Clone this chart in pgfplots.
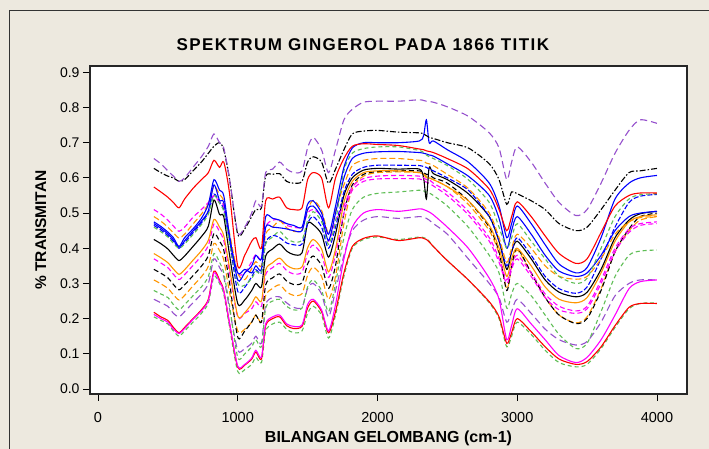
\documentclass[border=0pt]{standalone}
\usepackage{fontspec}
\setmainfont{Liberation Sans}
\newfontfamily\titlefont[LetterSpace=8.5]{Liberation Sans}
\usepackage{pgfplots}
\usepackage{pgfplotstable}
\pgfplotsset{compat=1.18}
\definecolor{bgbeige}{RGB}{237,233,223}
\definecolor{cpurple}{RGB}{150,80,205}
\definecolor{cgreen}{RGB}{95,190,85}
\definecolor{corange}{RGB}{255,150,0}
\definecolor{cmagenta}{RGB}{255,0,255}
\definecolor{cred}{RGB}{255,0,0}
\definecolor{cblue}{RGB}{0,0,255}

\pgfplotstableread{
x A B C D E F G H I J K L M N O P Q R S
400 .655 .627 .574 .475 .46 .47 .49 .465 .425 .385 .34 .51 .31 .28 .212 .255 .218 .205 .37
450 .64 .615 .56 .462 .447 .457 .477 .452 .413 .373 .329 .497 .299 .27 .2 .245 .205 .195 .358
500 .62 .605 .545 .446 .432 .441 .46 .436 .398 .359 .316 .48 .286 .26 .19 .235 .195 .185 .345
540 .605 .60 .53 .43 .414 .424 .444 .419 .38 .341 .297 .463 .268 .24 .17 .215 .175 .165 .326
580 .59 .59 .515 .405 .40 .40 .429 .404 .365 .326 .282 .448 .253 .225 .158 .205 .16 .15 .311
620 .60 .595 .54 .43 .412 .421 .44 .416 .378 .339 .296 .46 .266 .24 .172 .22 .175 .165 .325
680 .63 .62 .57 .455 .439 .449 .469 .444 .405 .366 .322 .488 .293 .265 .198 .245 .20 .19 .351
740 .66 .645 .595 .485 .467 .477 .497 .472 .433 .393 .349 .51 .319 .29 .222 .27 .225 .215 .378
790 .69 .67 .615 .525 .497 .507 .527 .502 .463 .423 .379 .53 .349 .32 .252 .30 .255 .245 .408
830 .725 .69 .65 .595 .55 .58 .576 .554 .537 .482 .442 .55 .414 .385 .33 .37 .335 .32 .469
870 .70 .70 .63 .565 .527 .536 .553 .531 .496 .46 .42 .53 .393 .36 .305 .345 .31 .30 .447
900 .685 .68 .645 .55 .505 .53 .533 .51 .49 .436 .395 .52 .367 .33 .278 .32 .28 .27 .422
940 .60 .60 .56 .44 .418 .427 .446 .423 .385 .348 .306 .43 .278 .24 .19 .23 .19 .18 .334
1000 .445 .44 .35 .31 .30 .33 .33 .278 .243 .208 .148 .33 .165 .09 .065 .11 .062 .05 .205
1050 .46 .455 .38 .33 .295 .34 .311 .289 .253 .217 .165 .33 .17 .10 .07 .115 .068 .055 .215
1100 .50 .49 .42 .35 .314 .33 .342 .319 .28 .242 .19 .362 .19 .12 .088 .13 .085 .07 .228
1130 .535 .51 .43 .38 .334 .35 .362 .339 .30 .262 .21 .382 .21 .14 .11 .15 .105 .09 .248
1170 .52 .515 .40 .37 .33 .34 .35 .33 .29 .25 .19 .37 .19 .12 .09 .13 .085 .075 .235
1200 .615 .605 .535 .49 .412 .46 .44 .416 .378 .339 .296 .46 .266 .23 .185 .24 .18 .165 .325
1250 .625 .61 .54 .485 .432 .46 .46 .436 .398 .359 .316 .48 .286 .25 .205 .26 .20 .185 .345
1300 .645 .612 .545 .48 .448 .458 .478 .43 .412 .372 .327 .48 .296 .255 .21 .262 .205 .19 .357
1350 .625 .59 .515 .47 .428 .455 .458 .415 .392 .352 .307 .465 .276 .235 .185 .245 .18 .17 .337
1400 .615 .585 .51 .465 .418 .45 .448 .41 .382 .342 .297 .46 .266 .225 .178 .232 .172 .16 .327
1460 .62 .59 .515 .46 .423 .45 .453 .412 .387 .347 .302 .46 .271 .23 .182 .232 .178 .165 .332
1500 .685 .645 .595 .525 .479 .51 .509 .47 .47 .401 .355 .50 .323 .29 .24 .285 .23 .215 .386
1540 .715 .66 .615 .535 .504 .52 .536 .49 .467 .425 .378 .51 .346 .31 .255 .30 .25 .235 .409
1600 .68 .645 .60 .50 .476 .487 .508 .46 .44 .398 .351 .49 .32 .28 .225 .27 .22 .21 .382
1650 .615 .585 .515 .44 .411 .422 .443 .40 .375 .333 .286 .42 .255 .22 .165 .205 .16 .145 .317
1700 .68 .625 .60 .52 .476 .50 .508 .46 .44 .398 .351 .48 .32 .30 .24 .28 .22 .21 .382
1760 .765 .68 .655 .63 .62 .60 .58 .56 .55 .53 .50 .52 .47 .43 .37 .38 .33 .32 .50
1820 .795 .725 .69 .685 .67 .655 .635 .61 .60 .59 .58 .575 .57 .51 .46 .45 .405 .40 .565
1900 .815 .733 .697 .70 .683 .67 .65 .63 .622 .615 .61 .598 .605 .545 .50 .48 .428 .425 .59
2000 .818 .735 .695 .70 .688 .674 .655 .636 .627 .62 .618 .605 .615 .556 .51 .49 .435 .432 .597
2150 .818 .73 .692 .70 .688 .675 .655 .636 .625 .62 .62 .607 .617 .56 .505 .485 .422 .425 .598
2300 .822 .728 .682 .705 .678 .672 .65 .635 .625 .615 .62 .605 .615 .565 .512 .49 .43 .432 .597
2330 .82 .725 .68 .72 .672 .67 .648 .632 .60 .61 .615 .60 .61 .563 .51 .488 .428 .43 .592
2350 .818 .72 .677 .765 .665 .668 .642 .63 .54 .60 .61 .595 .605 .56 .507 .485 .425 .428 .588
2370 .817 .715 .675 .70 .66 .665 .64 .625 .63 .60 .61 .595 .60 .557 .503 .48 .418 .42 .585
2400 .815 .712 .672 .705 .655 .662 .635 .62 .612 .595 .60 .585 .595 .55 .495 .47 .405 .405 .577
2500 .802 .70 .655 .68 .635 .64 .61 .60 .595 .575 .585 .56 .575 .52 .46 .44 .365 .365 .55
2650 .775 .685 .625 .645 .595 .605 .57 .565 .555 .535 .535 .505 .525 .46 .40 .37 .31 .31 .495
2800 .728 .64 .568 .585 .53 .55 .50 .49 .49 .465 .46 .43 .45 .38 .315 .30 .248 .245 .42
2870 .685 .595 .51 .52 .46 .485 .43 .42 .42 .40 .39 .37 .385 .33 .255 .26 .205 .20 .36
2925 .595 .525 .45 .43 .40 .40 .36 .35 .34 .32 .28 .31 .285 .23 .14 .19 .13 .12 .30
2960 .645 .56 .49 .47 .43 .45 .40 .39 .39 .37 .35 .35 .345 .27 .18 .22 .16 .15 .34
3000 .688 .555 .532 .52 .47 .49 .44 .43 .42 .40 .40 .38 .395 .30 .228 .255 .20 .19 .37
3100 .645 .535 .49 .47 .42 .44 .40 .38 .37 .35 .33 .33 .33 .265 .185 .215 .163 .155 .32
3200 .585 .51 .435 .41 .37 .38 .35 .32 .31 .29 .26 .27 .26 .21 .14 .17 .12 .11 .26
3300 .53 .47 .385 .355 .32 .335 .32 .285 .275 .255 .21 .235 .21 .155 .095 .14 .085 .075 .225
3420 .493 .45 .357 .33 .30 .32 .312 .272 .262 .245 .186 .222 .188 .115 .075 .125 .07 .063 .215
3500 .51 .46 .37 .345 .315 .33 .32 .29 .275 .26 .20 .235 .205 .13 .09 .135 .078 .07 .228
3600 .585 .51 .445 .43 .40 .38 .37 .37 .34 .33 .28 .31 .285 .22 .14 .19 .12 .115 .30
3700 .67 .565 .52 .54 .49 .45 .44 .46 .43 .42 .39 .40 .39 .32 .21 .265 .18 .175 .39
3800 .735 .615 .55 .585 .54 .49 .475 .53 .48 .475 .455 .455 .45 .38 .285 .30 .232 .228 .445
3880 .765 .62 .557 .60 .552 .50 .487 .548 .498 .49 .49 .47 .48 .392 .305 .31 .243 .243 .465
4000 .755 .627 .557 .607 .555 .505 .49 .553 .505 .495 .50 .475 .49 .395 .31 .31 .243 .245 .47
}\spectra

\begin{document}
\begin{tikzpicture}[x=1pt,y=1pt]
\fill[bgbeige] (0,0) rectangle (709,449);
\draw[black!80, line width=1pt] (9.5,0) -- (9.5,438.5) -- (709,438.5);
\begin{axis}[
  at={(90pt,55pt)}, anchor=south west,
  scale only axis, width=597pt, height=328pt,
  xmin=-57, xmax=4215, ymin=-0.0142, ymax=0.918,
  xtick={0,1000,2000,3000,4000},
  ytick={0,0.1,0.2,0.3,0.4,0.5,0.6,0.7,0.8,0.9},
  xtick pos=bottom, ytick pos=left,
  tick align=outside, major tick length=7pt,
  tick style={black, line width=0.8pt},
  axis line style={black!85, line width=1.3pt},
  axis background/.style={fill=white},
  /pgf/number format/assume math mode=true,
  /pgf/number format/1000 sep={},
  yticklabel style={/pgf/number format/fixed, /pgf/number format/fixed zerofill, /pgf/number format/precision=1, font=\fontsize{14}{16}\selectfont},
  xticklabel style={font=\fontsize{14.5}{16}\selectfont, yshift=-8pt},
  scaled y ticks=false,
  title={\titlefont\bfseries SPEKTRUM GINGEROL PADA 1866 TITIK},
  title style={at={(axis description cs:0.457,1)}, anchor=base, yshift=9.7pt, font=\fontsize{17}{19}\selectfont},
  xlabel={\textbf{BILANGAN GELOMBANG (cm-1)}},
  xlabel style={at={(axis description cs:0.5,0)}, anchor=base, yshift=-49pt, font=\fontsize{16}{18}\selectfont},
  ylabel={\textbf{\% TRANSMITAN}},
  ylabel style={at={(axis description cs:-0.0737,0.5)}, anchor=base, font=\fontsize{15.5}{18}\selectfont},
  every axis plot/.append style={line width=1.1pt, mark=none, smooth, tension=0.45},
]
\addplot[cgreen, dash pattern=on 4pt off 3pt] table[x=x,y=R]{\spectra};
\addplot[cred] table[x=x,y=Q]{\spectra};
\addplot[cpurple, dash pattern=on 7pt off 4pt] table[x=x,y=P]{\spectra};
\addplot[cmagenta] table[x=x,y=O]{\spectra};
\addplot[cgreen, dash pattern=on 4pt off 3pt] table[x=x,y=N]{\spectra};
\addplot[corange, dash pattern=on 6pt off 3pt] table[x=x,y=M]{\spectra};
\addplot[black, dash pattern=on 5pt off 3pt] table[x=x,y=K]{\spectra};
\addplot[cmagenta, dash pattern=on 5pt off 3pt] table[x=x,y=S]{\spectra};
\addplot[corange] table[x=x,y=J]{\spectra};
\addplot[black] table[x=x,y=I]{\spectra};
\addplot[cblue, dash pattern=on 5pt off 2pt] table[x=x,y=H]{\spectra};
\addplot[cmagenta, dash pattern=on 5pt off 3pt] table[x=x,y=L]{\spectra};
\addplot[corange, dash pattern=on 6pt off 3pt] table[x=x,y=G]{\spectra};
\addplot[cblue] table[x=x,y=F]{\spectra};
\addplot[cgreen, dash pattern=on 4pt off 3pt] table[x=x,y=E]{\spectra};
\addplot[cblue] table[x=x,y=D]{\spectra};
\addplot[cred] table[x=x,y=C]{\spectra};
\addplot[black, dash pattern=on 6pt off 2pt on 1.5pt off 2pt] table[x=x,y=B]{\spectra};
\addplot[cpurple, dash pattern=on 7pt off 4pt] table[x=x,y=A]{\spectra};
\end{axis}
\pgfresetboundingbox
\useasboundingbox (0,0) rectangle (709,449);
\end{tikzpicture}
\end{document}
